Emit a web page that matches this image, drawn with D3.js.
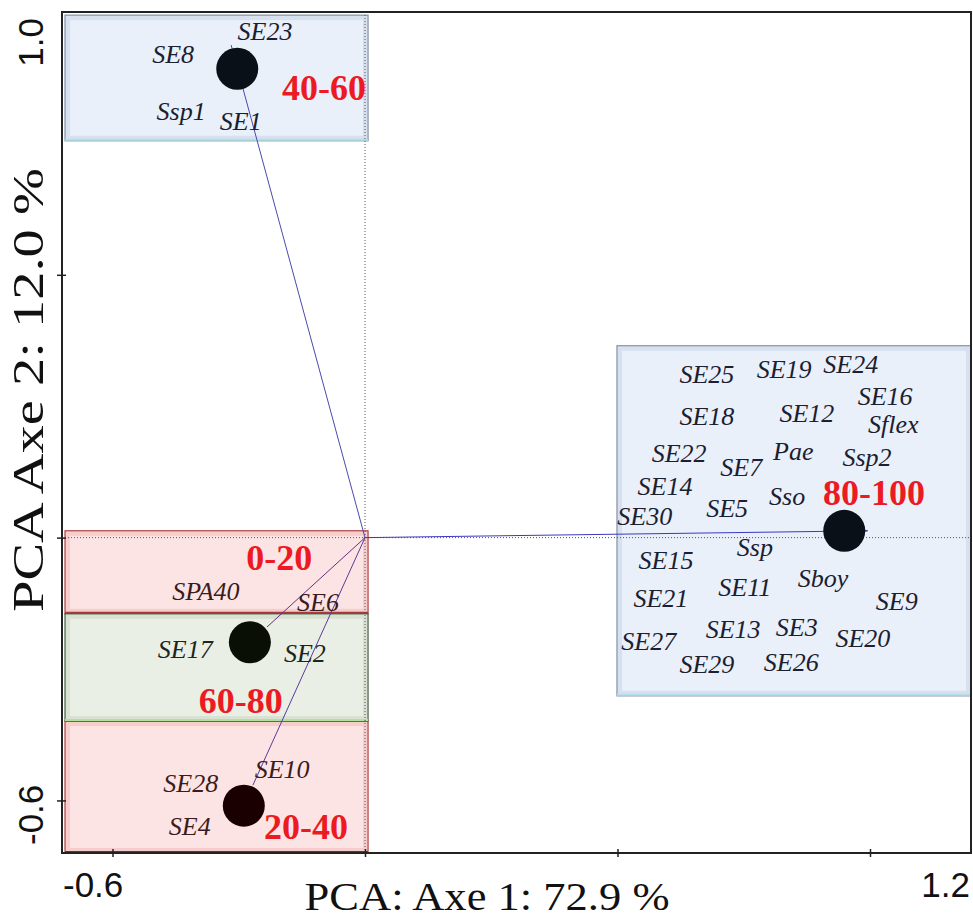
<!DOCTYPE html>
<html>
<head>
<meta charset="utf-8">
<script src="https://cdn.jsdelivr.net/npm/d3@7"></script>
<style>
  body { margin: 0; background: #fff; }
  svg { display: block; }
</style>
</head>
<body>
<div id="chart"></div>
<script>
// frame size
const FRAME_WIDTH = 973;
const FRAME_HEIGHT = 918;
const MARGINS = {left: 62, right: 2, top: 12, bottom: 65};

// axis domains and ticks
const X_DOMAIN = [-0.6, 1.2];
const Y_DOMAIN = [-0.6, 1.0];
const X_TICKS = [-0.5, 0, 0.5, 1.0];
const Y_TICKS = [-0.5, 0, 0.5];
const X_END_LABELS = ["-0.6", "1.2"];
const Y_END_LABELS = ["-0.6", "1.0"];
const X_TITLE = "PCA: Axe 1: 72.9 %";
const Y_TITLE = "PCA Axe 2: 12.0 %";

// classes (age groups)
const GROUPS = ["0-20", "20-40", "40-60", "60-80", "80-100"];
// envelope boxes per group
const BOX_X0 = [-0.594, -0.594, -0.594, -0.594, 0.499];
const BOX_X1 = [0.006, 0.006, 0.006, 0.006, 1.2];
const BOX_Y0 = [0.013, -0.349, 0.755, -0.145, -0.301];
const BOX_Y1 = [-0.145, -0.6, 0.994, -0.349, 0.365];
// centroids (null = at origin, not drawn)
const CENTROID_X = [null, -0.240, -0.253, -0.228, 0.949];
const CENTROID_Y = [null, -0.510, 0.892, -0.199, 0.013];
// arrow tips of the supplementary variables
const ARROW_X = [null, -0.222, -0.265, -0.194, 0.996];
const ARROW_Y = [null, -0.471, 0.937, -0.170, 0.013];
const ARROW_HEAD = [false, false, false, false, true];
// position of the group name
const GROUP_LABEL_X = [-0.170, -0.117, -0.081, -0.246, 1.008];
const GROUP_LABEL_Y = [-0.038, -0.549, 0.857, -0.310, 0.086];

// species scores
const SPECIES = ["SE25", "SE19", "SE24", "SE16", "Sflex", "SE18", "SE12", "SE22", "Pae", "Ssp2",
                 "SE7", "SE14", "SE5", "Sso", "SE30", "Ssp", "SE15", "SE11", "Sboy", "SE21",
                 "SE9", "SE13", "SE3", "SE27", "SE20", "SE29", "SE26",
                 "SE8", "SE23", "Ssp1", "SE1",
                 "SPA40", "SE6", "SE17", "SE2", "SE10", "SE28", "SE4"];
const SPECIES_X = [0.677, 0.830, 0.962, 1.030, 1.046, 0.677, 0.875, 0.622, 0.848, 0.994,
                   0.745, 0.594, 0.717, 0.836, 0.554, 0.772, 0.596, 0.752, 0.907, 0.586,
                   1.053, 0.729, 0.855, 0.562, 0.986, 0.677, 0.844,
                   -0.380, -0.198, -0.364, -0.246,
                   -0.315, -0.093, -0.356, -0.119, -0.164, -0.345, -0.347];
const SPECIES_Y = [0.311, 0.321, 0.330, 0.269, 0.216, 0.231, 0.237, 0.161, 0.165, 0.153,
                   0.134, 0.098, 0.056, 0.079, 0.041, -0.018, -0.043, -0.094, -0.077, -0.115,
                   -0.121, -0.174, -0.170, -0.197, -0.191, -0.240, -0.237,
                   0.920, 0.964, 0.812, 0.793,
                   -0.102, -0.123, -0.212, -0.220, -0.440, -0.467, -0.549];
const SPECIES_GROUP = ["80-100", "80-100", "80-100", "80-100", "80-100", "80-100", "80-100", "80-100", "80-100", "80-100",
                       "80-100", "80-100", "80-100", "80-100", "80-100", "80-100", "80-100", "80-100", "80-100", "80-100",
                       "80-100", "80-100", "80-100", "80-100", "80-100", "80-100", "80-100",
                       "40-60", "40-60", "40-60", "40-60",
                       "0-20", "0-20", "60-80", "60-80", "20-40", "20-40", "20-40"];

// styles per group
const STYLE = {
  "0-20":   {fill: "#fde4e4", stroke: "#a83a3a", bevel: "#f3c2c2", low: "#a83a3a", dot: "#000", text: "#3a1c1c", line: "#6a2f80"},
  "20-40":  {fill: "#fde4e4", stroke: "#a83a3a", bevel: "#f3c2c2", low: "#a01818", dot: "#1a0000", text: "#3a1c1c", line: "#5a3a9a"},
  "40-60":  {fill: "#e9f0fa", stroke: "#7d8ca3", bevel: "#cfd9e8", low: "#b4e0ea", dot: "#0a1018", text: "#1b2030", line: "#4a4ab0"},
  "60-80":  {fill: "#eaefe6", stroke: "#3e5a3e", bevel: "#d2dccb", low: "#aee398", dot: "#0a0f06", text: "#1c261c", line: "#6a2f80"},
  "80-100": {fill: "#e9f0fa", stroke: "#7d8ca3", bevel: "#cfd9e8", low: "#b4e0ea", dot: "#0a1018", text: "#1b2030", line: "#3a3ac0"}
};

const FRAME = d3.select("#chart")
                .append("svg")
                  .attr("width", FRAME_WIDTH)
                  .attr("height", FRAME_HEIGHT);

const X_SCALE = d3.scaleLinear()
                  .domain(X_DOMAIN)
                  .range([MARGINS.left, FRAME_WIDTH - MARGINS.right]);

const Y_SCALE = d3.scaleLinear()
                  .domain(Y_DOMAIN)
                  .range([FRAME_HEIGHT - MARGINS.bottom, MARGINS.top]);

// envelope boxes
const boxes = FRAME.append("g");
GROUPS.forEach((g, i) => {
  const s = STYLE[g];
  const x0 = X_SCALE(BOX_X0[i]), x1 = X_SCALE(BOX_X1[i]);
  const y0 = Y_SCALE(Math.max(BOX_Y0[i], BOX_Y1[i]));
  const y1 = Y_SCALE(Math.min(BOX_Y0[i], BOX_Y1[i]));
  boxes.append("rect")
        .attr("x", x0).attr("y", y0)
        .attr("width", x1 - x0).attr("height", y1 - y0)
        .attr("fill", s.fill);
  // soft bevel inside the edge
  boxes.append("rect")
        .attr("x", x0 + 3).attr("y", y0 + 3)
        .attr("width", x1 - x0 - 6).attr("height", y1 - y0 - 6)
        .attr("fill", "none")
        .attr("stroke", s.bevel)
        .attr("stroke-width", 4)
        .attr("opacity", 0.7);
  boxes.append("rect")
        .attr("x", x0).attr("y", y0)
        .attr("width", x1 - x0).attr("height", y1 - y0)
        .attr("fill", "none")
        .attr("stroke", s.stroke)
        .attr("stroke-width", 1.2);
  // light bottom edge
  boxes.append("line")
        .attr("x1", x0).attr("x2", x1)
        .attr("y1", y1 - 1).attr("y2", y1 - 1)
        .attr("stroke", s.low)
        .attr("stroke-width", 2);
});

// zero lines (dotted)
FRAME.append("line")
      .attr("x1", X_SCALE(0)).attr("x2", X_SCALE(0))
      .attr("y1", Y_SCALE(Y_DOMAIN[1])).attr("y2", Y_SCALE(Y_DOMAIN[0]))
      .attr("stroke", "#555").attr("stroke-width", 1)
      .attr("stroke-dasharray", "1,2");
FRAME.append("line")
      .attr("x1", X_SCALE(X_DOMAIN[0])).attr("x2", X_SCALE(X_DOMAIN[1]))
      .attr("y1", Y_SCALE(0)).attr("y2", Y_SCALE(0))
      .attr("stroke", "#555").attr("stroke-width", 1)
      .attr("stroke-dasharray", "1,2");

// arrows from origin
GROUPS.forEach((g, i) => {
  if (ARROW_X[i] === null) return;
  const s = STYLE[g];
  const ox = X_SCALE(0), oy = Y_SCALE(0);
  const tx = X_SCALE(ARROW_X[i]), ty = Y_SCALE(ARROW_Y[i]);
  FRAME.append("line")
        .attr("x1", ox).attr("y1", oy)
        .attr("x2", tx).attr("y2", ty)
        .attr("stroke", s.line)
        .attr("stroke-width", 1);
  if (!ARROW_HEAD[i]) return;
  // small arrow head
  const ang = Math.atan2(ty - oy, tx - ox);
  const L = 8, W = 3;
  const p1 = [tx - L * Math.cos(ang) + W * Math.sin(ang), ty - L * Math.sin(ang) - W * Math.cos(ang)];
  const p2 = [tx - L * Math.cos(ang) - W * Math.sin(ang), ty - L * Math.sin(ang) + W * Math.cos(ang)];
  FRAME.append("path")
        .attr("d", "M" + tx + "," + ty + "L" + p1 + "L" + p2 + "Z")
        .attr("fill", s.line);
});

// centroids
GROUPS.forEach((g, i) => {
  if (CENTROID_X[i] === null) return;
  FRAME.append("circle")
        .attr("cx", X_SCALE(CENTROID_X[i]))
        .attr("cy", Y_SCALE(CENTROID_Y[i]))
        .attr("r", 21)
        .attr("fill", STYLE[g].dot);
});

// species labels
FRAME.selectAll(".sp")
      .data(SPECIES)
      .enter()
      .append("text")
        .attr("class", "sp")
        .attr("x", (d, i) => X_SCALE(SPECIES_X[i]))
        .attr("y", (d, i) => Y_SCALE(SPECIES_Y[i]))
        .attr("dy", "0.35em")
        .attr("text-anchor", "middle")
        .attr("font-family", "'Liberation Serif', 'Times New Roman', serif")
        .attr("font-style", "italic")
        .attr("font-size", 26)
        .attr("fill", (d, i) => STYLE[SPECIES_GROUP[i]].text)
        .text((d) => d);

// group names
FRAME.selectAll(".grp")
      .data(GROUPS)
      .enter()
      .append("text")
        .attr("class", "grp")
        .attr("x", (d, i) => X_SCALE(GROUP_LABEL_X[i]))
        .attr("y", (d, i) => Y_SCALE(GROUP_LABEL_Y[i]))
        .attr("dy", "0.35em")
        .attr("text-anchor", "middle")
        .attr("font-family", "'Liberation Serif', 'Times New Roman', serif")
        .attr("font-weight", "bold")
        .attr("font-size", 36)
        .attr("fill", "#ec1a22")
        .text((d) => d);

// frame
FRAME.append("rect")
      .attr("x", X_SCALE(X_DOMAIN[0])).attr("y", Y_SCALE(Y_DOMAIN[1]))
      .attr("width", X_SCALE(X_DOMAIN[1]) - X_SCALE(X_DOMAIN[0]))
      .attr("height", Y_SCALE(Y_DOMAIN[0]) - Y_SCALE(Y_DOMAIN[1]))
      .attr("fill", "none")
      .attr("stroke", "#222")
      .attr("stroke-width", 2);

// ticks crossing the axes
const xAxis = FRAME.append("g")
                  .attr("transform", "translate(0," + Y_SCALE(Y_DOMAIN[0]) + ")")
                  .call(d3.axisBottom(X_SCALE).tickValues(X_TICKS).tickSize(4).tickFormat(""));
xAxis.select(".domain").remove();
xAxis.selectAll(".tick line").attr("y1", -4).attr("stroke", "#222").attr("stroke-width", 1.5);

const yAxis = FRAME.append("g")
                  .attr("transform", "translate(" + X_SCALE(X_DOMAIN[0]) + ",0)")
                  .call(d3.axisLeft(Y_SCALE).tickValues(Y_TICKS).tickSize(5).tickFormat(""));
yAxis.select(".domain").remove();
yAxis.selectAll(".tick line").attr("x1", 4).attr("stroke", "#222").attr("stroke-width", 1.5);

// end labels of the axes
FRAME.append("text")
      .attr("x", X_SCALE(X_DOMAIN[0]) + 1).attr("y", 897)
      .attr("text-anchor", "start")
      .attr("font-family", "'Liberation Sans', Arial, sans-serif")
      .attr("font-size", 35)
      .attr("fill", "#111")
      .text(X_END_LABELS[0]);
FRAME.append("text")
      .attr("x", X_SCALE(X_DOMAIN[1]) - 1).attr("y", 897)
      .attr("text-anchor", "end")
      .attr("font-family", "'Liberation Sans', Arial, sans-serif")
      .attr("font-size", 35)
      .attr("fill", "#111")
      .text(X_END_LABELS[1]);
FRAME.append("text")
      .attr("transform", "translate(43," + (Y_SCALE(Y_DOMAIN[0]) - 8) + ") rotate(-90)")
      .attr("text-anchor", "start")
      .attr("font-family", "'Liberation Sans', Arial, sans-serif")
      .attr("font-size", 35)
      .attr("fill", "#111")
      .text(Y_END_LABELS[0]);
FRAME.append("text")
      .attr("transform", "translate(43," + (Y_SCALE(Y_DOMAIN[1]) + 6) + ") rotate(-90)")
      .attr("text-anchor", "end")
      .attr("font-family", "'Liberation Sans', Arial, sans-serif")
      .attr("font-size", 35)
      .attr("fill", "#111")
      .text(Y_END_LABELS[1]);

// axis titles
FRAME.append("text")
      .attr("x", 487).attr("y", 910)
      .attr("text-anchor", "middle")
      .attr("font-family", "'Liberation Serif', 'Times New Roman', serif")
      .attr("font-size", 41)
      .attr("textLength", 365)
      .attr("lengthAdjust", "spacingAndGlyphs")
      .attr("fill", "#111")
      .text(X_TITLE);
FRAME.append("text")
      .attr("transform", "translate(43,390) rotate(-90)")
      .attr("text-anchor", "middle")
      .attr("font-family", "'Liberation Serif', 'Times New Roman', serif")
      .attr("font-size", 45)
      .attr("textLength", 444)
      .attr("lengthAdjust", "spacingAndGlyphs")
      .attr("fill", "#111")
      .text(Y_TITLE);
</script>
</body>
</html>
